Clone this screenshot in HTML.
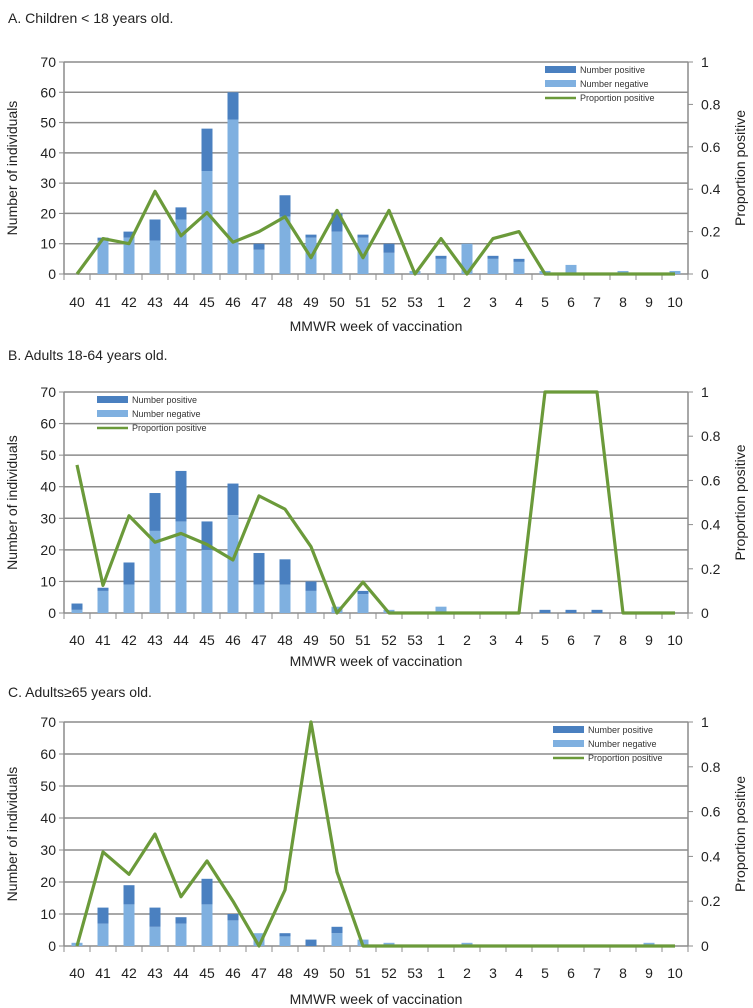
<!DOCTYPE html>
<html><head><meta charset="utf-8"><style>
body{margin:0;background:#fff;}
svg{display:block;font-family:"Liberation Sans",sans-serif;}
</style></head><body>
<svg id="chart" width="753" height="1008" viewBox="0 0 753 1008" xmlns="http://www.w3.org/2000/svg"></svg>
<script>
const categories=["40","41","42","43","44","45","46","47","48","49","50","51","52","53","1","2","3","4","5","6","7","8","9","10"];
const leftTicks=[0,10,20,30,40,50,60,70];
const rightTicks=["0","0.2","0.4","0.6","0.8","1"];
const totalA=[0,12,14,18,22,48,60,10,26,13,20,13,10,1,6,10,6,5,1,3,0,1,0,1];
const negA=[0,11,12,11,18,34,51,8,19,12,14,12,7,1,5,10,5,4,1,3,0,1,0,1];
const propA=[0,0.167,0.143,0.39,0.18,0.29,0.15,0.2,0.27,0.077,0.3,0.077,0.3,0,0.167,0,0.167,0.2,0,0,0,0,0,0];
const totalB=[3,8,16,38,45,29,41,19,17,10,2,7,1,0,2,0,0,0,1,1,1,0,0,0];
const negB=[1,7,9,26,29,20,31,9,9,7,2,6,1,0,2,0,0,0,0,0,0,0,0,0];
const propB=[0.67,0.125,0.44,0.32,0.36,0.31,0.24,0.53,0.47,0.3,0,0.14,0,0,0,0,0,0,1,1,1,0,0,0];
const totalC=[1,12,19,12,9,21,10,4,4,2,6,2,1,0,0,1,0,0,0,0,0,0,1,0];
const negC=[1,7,13,6,7,13,8,4,3,0,4,2,1,0,0,1,0,0,0,0,0,0,1,0];
const propC=[0,0.42,0.32,0.5,0.22,0.38,0.2,0,0.25,1,0.33,0,0,0,0,0,0,0,0,0,0,0,0,0];

const svg=document.getElementById('chart');
const NS='http://www.w3.org/2000/svg';
function mk(tag,attrs,parent){const e=document.createElementNS(NS,tag);for(const k in attrs)e.setAttribute(k,attrs[k]);(parent||svg).appendChild(e);return e;}
function txt(s,attrs,parent){const e=mk('text',attrs,parent);e.textContent=s;return e;}

const panels=[
 {id:'a',title:'A.   Children < 18 years old.',ty:23,top:62,bot:274,lab:307,xt:331,total:totalA,neg:negA,prop:propA,lg:[545,70]},
 {id:'b',title:'B.   Adults 18-64 years old.',ty:360,top:392,bot:613,lab:645,xt:666,total:totalB,neg:negB,prop:propB,lg:[97,400]},
 {id:'c',title:'C.   Adults\u226565 years old.',ty:697,top:722,bot:946,lab:978,xt:1004,total:totalC,neg:negC,prop:propC,lg:[553,730]}
];
const L=64,R=688,bw=(R-L)/categories.length;
panels.forEach(p=>{
 const g=mk('g',{});
 
 
 const t=txt(p.title,{x:8,y:p.ty,'font-size':14,fill:'#222'},g);
 
 
 const y=v=>p.bot-(v/70)*(p.bot-p.top);
 const yr=v=>p.bot-v*(p.bot-p.top);
 const x=i=>L+bw*(i+0.5);
 leftTicks.forEach(v=>{
  const gl=mk('line',{x1:L,x2:R,y1:y(v),y2:y(v),stroke:'#8c8c8c','stroke-width':1.5},g);
  
  
  mk('line',{x1:L-5,x2:L,y1:y(v),y2:y(v),stroke:'#8c8c8c'},g);
  const tl=txt(String(v),{x:L-8,y:y(v)+5,'font-size':14,'text-anchor':'end',fill:'#222'},g);
  
  
 });
 rightTicks.forEach((s,i)=>{
  const v=i*0.2;
  mk('line',{x1:R,x2:R+5,y1:yr(v),y2:yr(v),stroke:'#8c8c8c'},g);
  const tl=txt(s,{x:R+13,y:yr(v)+5,'font-size':14,fill:'#222'},g);
  
  
 });
 mk('line',{x1:L,x2:L,y1:p.top,y2:p.bot,stroke:'#8c8c8c','stroke-width':1.5},g);
 mk('line',{x1:R,x2:R,y1:p.top,y2:p.bot,stroke:'#8c8c8c','stroke-width':1.5},g);
 for(let i=0;i<=categories.length;i++) mk('line',{x1:L+bw*i,x2:L+bw*i,y1:p.bot,y2:p.bot+6,stroke:'#8c8c8c'},g);
 categories.forEach((c,i)=>{
  const tl=txt(c,{x:x(i),y:p.lab,'font-size':14,'text-anchor':'middle',fill:'#222'},g);
  
  
  const n=p.neg[i],tot=p.total[i];
  if(n>0){const b=mk('rect',{x:x(i)-5.5,y:y(n),width:11,height:y(0)-y(n),fill:'#7fb0e0'},g);
   
   }
  if(tot>n){const b=mk('rect',{x:x(i)-5.5,y:y(tot),width:11,height:y(n)-y(tot),fill:'#4a80c0'},g);
   
   }
 });
 const line=mk('polyline',{points:p.prop.map((v,i)=>x(i)+','+yr(v)).join(' '),fill:'none',stroke:'#6b9a3a','stroke-width':3.2,'stroke-linejoin':'round'},g);
 
 
 const xt=txt('MMWR week of vaccination',{x:376,y:p.xt,'font-size':14,'text-anchor':'middle',fill:'#222'},g);
 
 
 const cy=(p.top+p.bot)/2;
 const yt=txt('Number of individuals',{x:0,y:0,'font-size':14,'text-anchor':'middle',fill:'#222',transform:'translate(17,'+cy+') rotate(-90)'},g);
 
 
 const y2=txt('Proportion positive',{x:0,y:0,'font-size':14,'text-anchor':'middle',fill:'#222',transform:'translate(745,'+cy+') rotate(-90)'},g);
 
 
 const lx=p.lg[0],ly=p.lg[1];
 const lg=mk('g',{},g);
 
 
 mk('rect',{x:lx,y:ly-4,width:31,height:7,fill:'#4a80c0'},lg);
 txt('Number positive',{x:lx+35,y:ly+3,'font-size':9,fill:'#333'},lg);
 mk('rect',{x:lx,y:ly+10,width:31,height:7,fill:'#7fb0e0'},lg);
 txt('Number negative',{x:lx+35,y:ly+17,'font-size':9,fill:'#333'},lg);
 mk('line',{x1:lx,x2:lx+31,y1:ly+28,y2:ly+28,stroke:'#6b9a3a','stroke-width':2.5},lg);
 txt('Proportion positive',{x:lx+35,y:ly+31,'font-size':9,fill:'#333'},lg);
});
</script>
</body></html>
